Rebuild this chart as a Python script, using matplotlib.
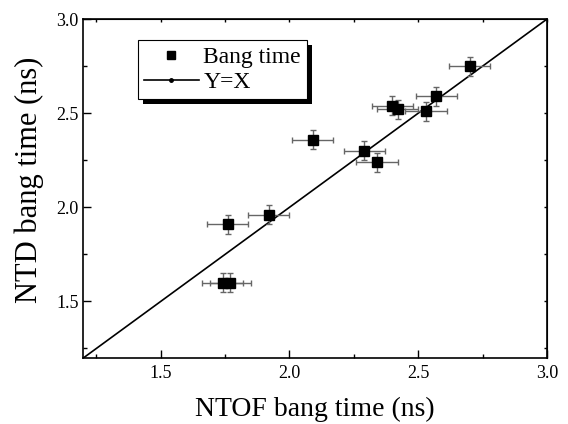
import matplotlib
matplotlib.use("Agg")
import matplotlib.pyplot as plt
from matplotlib.lines import Line2D
from matplotlib.patches import Rectangle
from matplotlib.ticker import MultipleLocator, NullFormatter

plt.rcParams['font.family'] = ['Liberation Serif', 'DejaVu Serif']

# Data
ntof = [2.70, 2.57, 2.40, 2.42, 2.53, 2.09, 2.29, 2.34, 1.92, 1.76, 1.74, 1.77]
ntd = [2.75, 2.59, 2.54, 2.52, 2.51, 2.36, 2.30, 2.24, 1.96, 1.91, 1.60, 1.60]
xerr = [0.08] * len(ntof)
yerr = [0.05] * len(ntd)
line_xy = [1.2, 3.0]

fig = plt.figure(figsize=(5.68, 4.24), dpi=100)
ax = fig.add_axes([0.147, 0.156, 0.816, 0.799])

ax.plot(line_xy, line_xy, color='black', lw=1.2, zorder=2)
ax.errorbar(ntof, ntd, xerr=xerr, yerr=yerr, fmt='none', ecolor='#666666',
            elinewidth=1.0, capsize=2.0, capthick=1.0, zorder=3)
ax.plot(ntof, ntd, linestyle='none', marker='s', ms=7.2, mfc='black',
        mec='black', zorder=4)

ax.set_xlim(1.2, 3.0)
ax.set_ylim(1.2, 3.0)
ax.xaxis.set_major_locator(MultipleLocator(0.5))
ax.xaxis.set_minor_locator(MultipleLocator(0.25))
ax.yaxis.set_major_locator(MultipleLocator(0.5))
ax.yaxis.set_minor_locator(MultipleLocator(0.25))
ax.tick_params(which='both', direction='in', labelsize=13, width=1)
ax.tick_params(which='major', length=5.5)
ax.tick_params(which='minor', length=3)
ax.tick_params(axis='x', which='major', pad=5)
for s in ax.spines.values():
    s.set_linewidth(1.2)

# top / right short ticks without labels
sec_t = ax.secondary_xaxis('top')
sec_t.xaxis.set_major_locator(MultipleLocator(0.25))
sec_t.xaxis.set_major_formatter(NullFormatter())
sec_t.tick_params(direction='in', length=2.2, width=1)
sec_r = ax.secondary_yaxis('right')
sec_r.yaxis.set_major_locator(MultipleLocator(0.25))
sec_r.yaxis.set_major_formatter(NullFormatter())
sec_r.tick_params(direction='in', length=2.2, width=1)

ax.set_xlabel('NTOF bang time (ns)', fontsize=20, labelpad=11)
ax.set_ylabel('NTD bang time (ns)', fontsize=22)
ax.yaxis.set_label_coords(-0.085, 0.525)

handles = [Line2D([], [], linestyle='none', marker='s', ms=6, color='black'),
           Line2D([], [], color='black', lw=1.2, marker='o', ms=2.5)]
leg = ax.legend(handles, ['Bang time', 'Y=X'], loc='upper left',
                bbox_to_anchor=(0.1185, 0.937), borderaxespad=0, fontsize=17,
                frameon=True, fancybox=False, edgecolor='black', framealpha=1,
                borderpad=0.25, handlelength=2.3, handletextpad=0.2,
                labelspacing=0.15)
leg.get_frame().set_linewidth(0.8)
leg.set_zorder(6)

fig.canvas.draw()
bb = leg.get_window_extent()
shadow = Rectangle((bb.x0 + 5, bb.y0 - 5), bb.width, bb.height, transform=None,
                   facecolor='black', edgecolor='none', zorder=5.9, clip_on=False)
ax.add_artist(shadow)

fig.savefig('out.png', dpi=100)
